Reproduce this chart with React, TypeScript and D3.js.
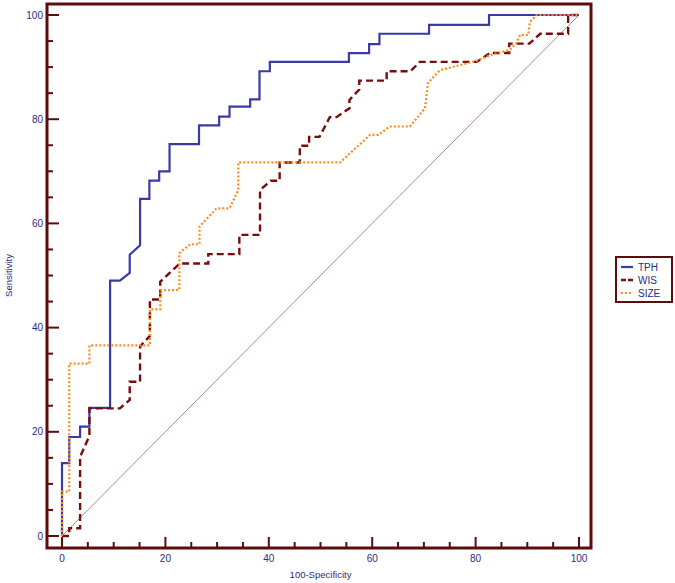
import * as d3 from "d3";

// ROC curves, x = 100-Specificity, y = Sensitivity
const tphX = [0, 0, 1.4, 1.4, 3.5, 3.5, 5.3, 5.3, 9.3, 9.3, 11.2, 13.1, 13.1, 15.1, 15.1, 16.9, 16.9, 18.8, 18.8, 20.8, 20.8, 26.5, 26.5, 30.4, 30.4, 32.4, 32.4, 36.4, 36.4, 38.2, 38.2, 40.2, 40.2, 55.5, 55.5, 59.4, 59.4, 61.4, 61.4, 71, 71, 82.6, 82.6, 100];
const tphY = [0, 14, 14, 19, 19, 21, 21, 24.6, 24.6, 49, 49, 50.5, 54, 55.8, 64.7, 64.7, 68.2, 68.2, 70, 70, 75.2, 75.2, 78.8, 78.8, 80.5, 80.5, 82.4, 82.4, 83.8, 83.8, 89.2, 89.2, 91, 91, 92.7, 92.7, 94.4, 94.4, 96.4, 96.4, 98.1, 98.1, 100, 100];

const wisX = [0, 1.4, 1.4, 3.5, 3.5, 5.3, 5.3, 11.2, 13.1, 13.1, 15.1, 15.1, 17, 17, 19, 19, 22.8, 28.3, 28.3, 34.3, 34.3, 38.3, 38.3, 40.4, 42.1, 42.1, 46, 46, 47.8, 47.8, 49.8, 51.8, 53.1, 55.6, 55.6, 57.5, 57.5, 62.8, 62.8, 67.4, 69.2, 80.2, 82.8, 86.5, 86.5, 90.4, 92.5, 97.9, 97.9, 100];
const wisY = [0, 0, 1.5, 1.5, 15.2, 19.2, 24.5, 24.5, 26.1, 29.6, 29.6, 36.4, 38.4, 45.4, 45.4, 48.8, 52.3, 52.3, 54.1, 54.1, 57.8, 57.8, 66.4, 68.2, 68.2, 71.7, 71.7, 74.9, 74.9, 76.6, 76.6, 80.4, 80.4, 82.1, 83.7, 85.7, 87.4, 87.4, 89.2, 89.2, 91, 91, 92.7, 92.7, 94.5, 94.5, 96.4, 96.4, 100, 100];

const sizeX = [0, 0, 1.4, 1.4, 5.3, 5.3, 17, 17, 19, 19, 22.7, 22.7, 24.8, 26.6, 26.6, 29.9, 32.4, 34.1, 34.1, 53.8, 59.6, 61.2, 63.4, 67.3, 70.2, 70.8, 73.1, 80.2, 82.8, 86.6, 87.9, 88.6, 90.2, 90.5, 91.8, 100];
const sizeY = [0, 8.5, 8.5, 33.1, 33.1, 36.6, 36.6, 43.5, 43.5, 47.2, 47.2, 54.3, 56, 56, 59.4, 62.9, 62.9, 66.4, 71.7, 71.7, 77, 77, 78.6, 78.6, 82.1, 87, 89.4, 91.2, 92.3, 93.3, 94.6, 96.2, 96.2, 98.7, 100, 100];

const seriesNames = ["TPH", "WIS", "SIZE"];
const xTicks = [0, 20, 40, 60, 80, 100];
const yTicks = [0, 20, 40, 60, 80, 100];

const frameColor = "#5e0b0b";
const textColor = "#2a2a86";
const colors = ["#3a3aa6", "#7a0c0c", "#ff8a1c"];
const dashes = ["none", "7,4", "2,2"];
const widths = [2.2, 2.4, 2.2];

export default function App() {
  const W = 675, H = 583;
  const x = d3.scaleLinear().domain([0, 100]).range([62, 579]);
  const y = d3.scaleLinear().domain([0, 100]).range([536, 15]);
  const frame = { left: 47, right: 591, top: 4, bottom: 548 };

  const line = d3.line<[number, number]>().x(d => x(d[0])).y(d => y(d[1]));
  const zip = (xs: number[], ys: number[]) => xs.map((v, i) => [v, ys[i]] as [number, number]);
  const series = [zip(tphX, tphY), zip(wisX, wisY), zip(sizeX, sizeY)];

  const minor = d3.range(0, 101, 5);
  const font = "'Liberation Sans', Arial, sans-serif";

  return (
    <svg width={W} height={H} style={{ position: "absolute", left: 0, top: 0, background: "#fff" }}>
      {/* diagonal reference */}
      <line x1={x(0)} y1={y(0)} x2={x(100)} y2={y(100)} stroke="#b87878" strokeWidth={0.9} />

      {/* frame */}
      <rect x={frame.left} y={frame.top} width={frame.right - frame.left} height={frame.bottom - frame.top}
        fill="none" stroke={frameColor} strokeWidth={3} />

      {/* y ticks */}
      {minor.map(t => (
        <line key={"yt" + t} x1={frame.left} x2={frame.left + (t % 20 === 0 ? 12 : 6)} y1={y(t)} y2={y(t)}
          stroke={frameColor} strokeWidth={2} />
      ))}
      {yTicks.map(t => (
        <text key={"yl" + t} x={frame.left - 4} y={y(t)} dy="0.35em" textAnchor="end" fontSize={10}
          fontFamily={font} fill={textColor}>{t}</text>
      ))}

      {/* x ticks */}
      {minor.map(t => (
        <line key={"xt" + t} x1={x(t)} x2={x(t)} y1={frame.bottom} y2={frame.bottom - (t % 20 === 0 ? 11 : 6)}
          stroke={frameColor} strokeWidth={2} />
      ))}
      {xTicks.map(t => (
        <text key={"xl" + t} x={x(t)} y={562} textAnchor="middle" fontSize={10}
          fontFamily={font} fill={textColor}>{t}</text>
      ))}

      <text x={(x(0) + x(100)) / 2} y={578} textAnchor="middle" fontSize={9.5} fontFamily={font} fill={textColor}>
        100-Specificity
      </text>
      <text transform={`translate(12,${(y(0) + y(100)) / 2}) rotate(-90)`} textAnchor="middle" fontSize={9.5}
        fontFamily={font} fill={textColor}>Sensitivity</text>

      {/* curves */}
      {series.map((s, i) => (
        <path key={seriesNames[i]} d={line(s) || ""} fill="none" stroke={colors[i]} strokeWidth={widths[i]}
          strokeDasharray={dashes[i]} />
      ))}

      {/* legend */}
      <rect x={616} y={257} width={56} height={45} fill="#fff" stroke={frameColor} strokeWidth={2} />
      {seriesNames.map((n, i) => (
        <g key={"lg" + n}>
          <line x1={621} x2={633} y1={267 + i * 13} y2={267 + i * 13} stroke={colors[i]} strokeWidth={widths[i]}
            strokeDasharray={i === 1 ? "5,2" : dashes[i]} />
          <text x={638} y={267 + i * 13} dy="0.35em" fontSize={10} fontFamily={font} fill={textColor}>{n}</text>
        </g>
      ))}
    </svg>
  );
}
